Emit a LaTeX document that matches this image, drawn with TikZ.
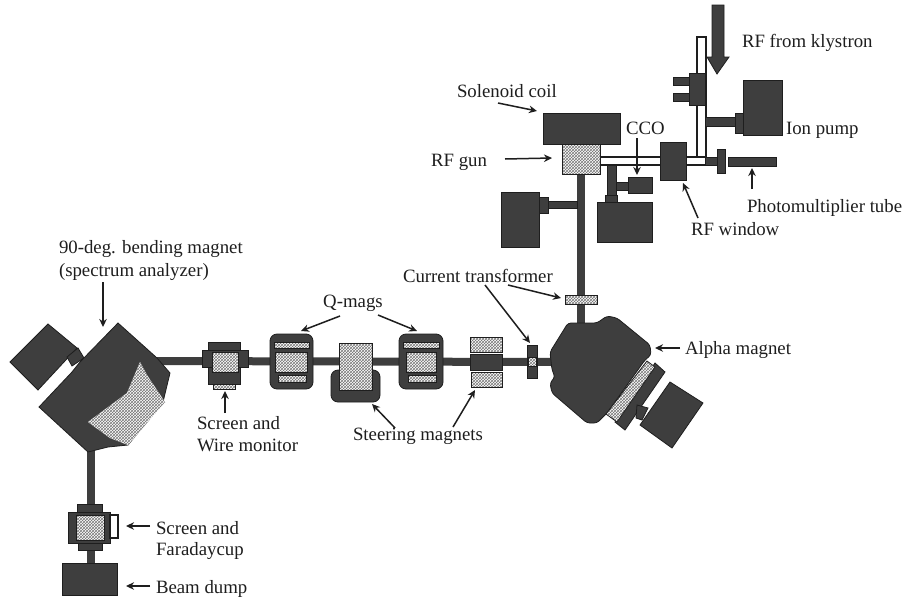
\documentclass[tikz,border=0pt]{standalone}
\usepackage{fontspec}
\setmainfont{Liberation Serif}
\usetikzlibrary{arrows.meta,patterns,backgrounds}
\definecolor{ink}{HTML}{1E1E1E}
\definecolor{dark}{HTML}{3E3E3E}
\newcommand{\bx}[6]{\pgfmathsetmacro\bw{#5-#3}\pgfmathsetmacro\bh{#6-#4}\node[#1,minimum width=\bw pt,minimum height=\bh pt,anchor=north west,inner sep=0pt,outer sep=0pt] (#2) at (#3,#4) {};}
\tikzset{
  solid box/.style={draw=ink,line width=.8pt,fill=dark},
  round box/.style={solid box,rounded corners=7pt},
  tube/.style={draw=ink,line width=1.2pt,fill=white},
  speck/.style={draw=ink,line width=.8pt,preaction={fill=white},pattern=crosshatch,pattern color=ink!60},
  label text/.style={font=\fontsize{18.8}{22}\selectfont,text=ink,inner sep=0pt,outer sep=0pt,anchor=west},
  pointer/.style={draw=ink,line width=1.5pt,-{Stealth[length=8pt,width=7.5pt]}},
  beam/.style={draw=dark,line width=8pt},
}
\begin{document}
\begin{tikzpicture}[x=1pt,y=-1pt]
\useasboundingbox (0,0) rectangle (902,600);

% --- RF feed
\draw[fill=dark,draw=ink,line width=.8pt] (712,5) -- (724,5) -- (724,57) -- (729,57) -- (717,74) -- (707,57) -- (712,57) -- cycle;
\bx{tube}{wgv}{697}{37}{706}{165}
\bx{solid box}{stubA}{673}{77}{690}{85}
\bx{solid box}{stubB}{673}{93}{690}{101}
\bx{solid box}{wgbox}{689}{73}{705}{105}
\bx{solid box}{ionpipe}{705}{117}{735}{126}
\bx{solid box}{ionneck}{735}{113}{743}{133}
\bx{solid box}{ionpump}{743}{80}{782}{135}
% --- gun
\bx{solid box}{coil}{543}{113}{620}{144}
\bx{tube}{tubeA}{598}{157}{662}{165}
\bx{tube}{tubeB}{684}{157}{706}{165}
\bx{solid box}{window}{660}{142}{686}{180}
\bx{solid box}{tubeC}{705}{157}{718}{165}
\bx{solid box}{flange}{717}{149}{725}{173}
\bx{solid box}{pmt}{728}{157}{776}{166}
\bx{speck}{gun}{562}{144}{600}{174}
% --- side pumps
\bx{solid box}{leftpipe}{548}{201}{577}{208}
\bx{solid box}{leftneck}{539}{197}{548}{213}
\bx{solid box}{leftpump}{501}{192}{539}{247}
\bx{solid box}{lowerpipe}{607}{165}{616}{197}
\bx{solid box}{ccopipe}{616}{182}{628}{190}
\bx{solid box}{cco}{628}{177}{652}{193}
\bx{solid box}{lowerneck}{605}{195}{617}{203}
\bx{solid box}{lowerpump}{597}{202}{652}{242}
% --- current transformers
\bx{speck}{ctv}{565}{295}{597}{304}
\bx{solid box}{cth}{527}{345}{537}{378}
\bx{speck}{cthmid}{528}{357}{536}{366}
% --- alpha magnet
\coordinate (alphaTop) at (580.5,323);
\coordinate (alphaLeft) at (555,362);
\draw[solid box,rounded corners=3pt] (568,323) -- (597,323) -- (607,316) -- (617,318) -- (650,345) -- (651,355) -- (645,360) -- (607,413) -- (597,423) -- (587,423) -- (552,393) -- (550,383) -- (555,377) -- (552,370) -- (550,352) -- cycle;
\draw[solid box] (655,363) -- (665,372) -- (625,430) -- (615,422) -- cycle;
\draw[speck] (647,361) -- (655,367) -- (617,422) -- (606,414) -- cycle;
\draw[solid box] (637,405) -- (648,408) -- (642,420) -- (636,418) -- cycle;
\draw[solid box] (670,382) -- (703,403) -- (672,448) -- (640,425) -- cycle;
% --- bending magnet
\coordinate (bendRight) at (155,361);
\coordinate (bendBottom) at (90.5,447);
\draw[solid box] (48,324) -- (77,348) -- (38,390) -- (10,362) -- cycle;
\draw[solid box] (67,357) -- (78,348) -- (84,358) -- (72,366) -- cycle;
\draw[solid box] (118,323) -- (157,358) -- (170,373) -- (163,402) -- (128,445) -- (108,447) -- (88,452) -- (39,407) -- (72,372) -- (80,362) -- cycle;
\draw[speck,draw=none] (140,362) -- (147,375) -- (165,402) -- (128,445) -- (110,438) -- (88,422) -- (127,393) -- cycle;
% --- beamline elements
\bx{solid box}{swbody}{208}{342}{240}{384}
\bx{solid box}{swwide}{202}{350}{248}{367}
\bx{speck}{swa}{212}{352}{238}{372}
\bx{speck}{swb}{213}{384}{235}{389}
\bx{round box}{qa}{270}{334}{313}{389}
\bx{speck}{qaa}{274}{342}{309}{348}
\bx{speck}{qab}{275}{352}{307}{372}
\bx{speck}{qac}{278}{375}{306}{382}
\bx{round box}{stbase}{331}{370}{380}{402}
\bx{speck}{stwhite}{339}{343}{372}{390}
\bx{round box}{qb}{399}{334}{443}{389}
\bx{speck}{qba}{403}{342}{439}{348}
\bx{speck}{qbb}{406}{352}{436}{372}
\bx{speck}{qbc}{408}{375}{436}{382}
\bx{speck}{sta}{470}{337}{502}{352}
\bx{solid box}{stb}{470}{354}{502}{370}
\bx{speck}{stc}{471}{372}{502}{387}
% --- screen, Faraday cup, dump
\bx{solid box}{sfbody}{68}{512}{110}{543}
\bx{solid box}{sftop}{77}{504}{102}{512}
\bx{solid box}{sfbot}{78}{543}{102}{550}
\bx{tube}{sfside}{110}{515}{118}{538}
\bx{speck}{sfin}{76}{515}{104}{540}
\bx{solid box}{dump}{62}{563}{117}{595}

% --- white page and beam pipes, behind everything
\begin{scope}[on background layer]
\fill[white] (0,0) rectangle (902,600);
\draw[beam] (bendRight) -- (alphaLeft);
\draw[beam] (bendBottom) -- (sftop.north -| bendBottom);
\draw[beam] (sfbot.south -| bendBottom) -- (dump.north -| bendBottom);
\draw[beam] (gun.south -| alphaTop) -- (alphaTop);
\end{scope}

% --- labels
\node[label text] (lklystron) at (742,43) {RF from klystron};
\node[label text] (lsolenoid) at (457,91) {Solenoid coil};
\node[label text] (lcco) at (626,128) {CCO};
\node[label text] (lion) at (786,130) {Ion pump};
\node[label text,anchor=east] (lgun) at (487,162) {RF gun};
\node[label text] (lpmt) at (747,208) {Photomultiplier tube};
\node[label text] (lwindow) at (691,229) {RF window};
\node[label text] (lct) at (403,276) {Current transformer};
\node[label text] (lbend) at (59,249) {90-deg. bending magnet};
\node[label text] (lbendb) at (59,272) {(spectrum analyzer)};
\node[label text,anchor=center] (lq) at (353,303) {Q-mags};
\node[label text] (lalpha) at (685,350) {Alpha magnet};
\node[label text] (lsw) at (197,423) {Screen and};
\node[label text] (lswb) at (197,445) {Wire monitor};
\node[label text] (lsteer) at (353,436) {Steering magnets};
\node[label text] (lsf) at (156,528) {Screen and};
\node[label text] (lsfb) at (156,551) {Faradaycup};
\node[label text] (ldump) at (156,589) {Beam dump};

% --- pointers (free ends)
\coordinate (pSolA) at (498,103); \coordinate (pSolB) at (537,111);
\coordinate (pGunA) at (505,159); \coordinate (pGunB) at (552,158);
\coordinate (pCcoA) at (637,138); \coordinate (pCcoB) at (637,175);
\coordinate (pWinA) at (698,218); \coordinate (pWinB) at (683,183);
\coordinate (pPmtA) at (752,189); \coordinate (pPmtB) at (752,168);
\coordinate (pCtA) at (508,285); \coordinate (pCtB) at (561,298);
\coordinate (pCtC) at (485,285); \coordinate (pCtD) at (530,343);
\coordinate (pBenA) at (103,282); \coordinate (pBenB) at (103,327);
\coordinate (pQaA) at (340,316); \coordinate (pQaB) at (301,331);
\coordinate (pQbA) at (378,315); \coordinate (pQbB) at (417,331);
\coordinate (pSwA) at (225,413); \coordinate (pSwB) at (225,391);
\coordinate (pStA) at (395,428); \coordinate (pStB) at (372,404);
\coordinate (pStC) at (453,427); \coordinate (pStD) at (475,390);
\coordinate (pAlA) at (680,348); \coordinate (pAlB) at (655,348);
\coordinate (pSfA) at (150,526); \coordinate (pSfB) at (126,526);
\coordinate (pDuA) at (150,586); \coordinate (pDuB) at (126,586);
\draw[pointer] (pSolA) -- (pSolB);
\draw[pointer] (pGunA) -- (pGunB);
\draw[pointer] (pCcoA) -- (pCcoB);
\draw[pointer] (pWinA) -- (pWinB);
\draw[pointer] (pPmtA) -- (pPmtB);
\draw[pointer] (pCtA) -- (pCtB);
\draw[pointer] (pCtC) -- (pCtD);
\draw[pointer] (pBenA) -- (pBenB);
\draw[pointer] (pQaA) -- (pQaB);
\draw[pointer] (pQbA) -- (pQbB);
\draw[pointer] (pSwA) -- (pSwB);
\draw[pointer] (pStA) -- (pStB);
\draw[pointer] (pStC) -- (pStD);
\draw[pointer] (pAlA) -- (pAlB);
\draw[pointer] (pSfA) -- (pSfB);
\draw[pointer] (pDuA) -- (pDuB);
\end{tikzpicture}
\end{document}
